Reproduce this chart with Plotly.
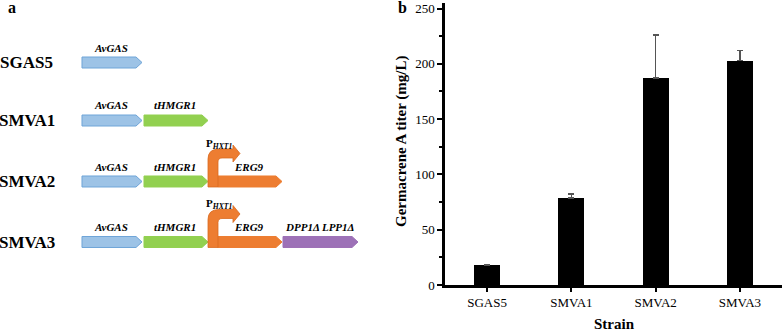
import plotly.graph_objects as go

# ---------------- data ----------------
strains = ["SGAS5", "SMVA1", "SMVA2", "SMVA3"]
titer = [18, 78.5, 187, 203]
titer_err = [0.5, 4, 39, 9]
titer_err_minus = [0, 0, 0, 0]
y_ticks = [0, 50, 100, 150, 200, 250]

row_labels = ["SGAS5", "SMVA1", "SMVA2", "SMVA3"]
gene_names = ["AvGAS", "tHMGR1", "ERG9", "DPP1Δ LPP1Δ"]
promoter_label = "P<sub><i>HXT1</i></sub>"

W, H = 784, 332
FONT = "Liberation Serif"

def px(x):
    return x / W

def py(y):
    return 1 - y / H

def pt(x, y):
    return f"{px(x):.5f},{py(y):.5f}"

def poly(points):
    s = "M " + pt(*points[0])
    for p in points[1:]:
        if p[0] == "Q":
            s += " Q " + pt(*p[1]) + " " + pt(*p[2])
        else:
            s += " L " + pt(*p)
    return s + " Z"

fig = go.Figure()

fig.add_trace(go.Bar(
    x=strains, y=titer,
    error_y=dict(type="data", symmetric=False, array=titer_err, arrayminus=titer_err_minus,
                 visible=True, color="#555555", thickness=1.5, width=3),
    marker=dict(color="black", line=dict(width=0)),
    width=0.31,
    showlegend=False,
))

shapes = []
annotations = []

# ---------------- schematic (panel a) ----------------
row_y = [62.5, 120.5, 181.5, 242]
gene_h = 11
tip = 6
colors = {
    "AvGAS": ("#9dc3e6", "#6fa5d8"),
    "tHMGR1": ("#92d050", "#92d050"),
    "ERG9": ("#ed7d31", "#ed7d31"),
    "DPP1Δ LPP1Δ": ("#9d71b7", "#9d71b7"),
}
gene_span = {
    "AvGAS": (82, 142),
    "tHMGR1": (144, 208),
    "ERG9": (218, 282),
    "DPP1Δ LPP1Δ": (283, 358),
}
row_genes = [
    ["AvGAS"],
    ["AvGAS", "tHMGR1"],
    ["AvGAS", "tHMGR1", "ERG9"],
    ["AvGAS", "tHMGR1", "ERG9", "DPP1Δ LPP1Δ"],
]

def gene_arrow(x0, x1, yc, fill, line):
    t, b = yc - gene_h / 2, yc + gene_h / 2
    p = poly([(x0, t), (x1 - tip, t), (x1, yc), (x1 - tip, b), (x0, b)])
    return dict(type="path", path=p, xref="paper", yref="paper",
                fillcolor=fill, line=dict(color=line, width=1), layer="above")

def promoter(yc):
    bot = yc + gene_h / 2
    top = yc - 32.5
    hy = yc - 28
    p = poly([
        (208, bot),
        (208, top + 10),
        ("Q", (208, top), (219, top)),
        (233, top),
        (233, hy - 8.5),
        (240, hy),
        (233, hy + 8.5),
        (233, top + 9),
        (222, top + 9),
        ("Q", (218, top + 9), (218, top + 13)),
        (218, bot),
    ])
    return dict(type="path", path=p, xref="paper", yref="paper",
                fillcolor="#ed7d31", line=dict(color="#d96a20", width=0.8), layer="above")

for label, yc, genes in zip(row_labels, row_y, row_genes):
    annotations.append(dict(x=px(26.5), y=py(yc), xref="paper", yref="paper", text=f"<b>{label}</b>",
                            showarrow=False, xanchor="center", yanchor="middle",
                            font=dict(family=FONT, size=17, color="black")))
    for g in genes:
        x0, x1 = gene_span[g]
        fill, line = colors[g]
        shapes.append(gene_arrow(x0, x1, yc, fill, line))
        annotations.append(dict(x=px((x0 + x1) / 2 - 1), y=py(yc - 15), xref="paper", yref="paper",
                                text=f"<b><i>{g}</i></b>", showarrow=False,
                                xanchor="center", yanchor="middle",
                                font=dict(family=FONT, size=11, color="black")))
    if "ERG9" in genes:
        shapes.append(promoter(yc))
        annotations.append(dict(x=px(220), y=py(yc - 38), xref="paper", yref="paper",
                                text=f"<b>{promoter_label}</b>", showarrow=False,
                                xanchor="center", yanchor="middle",
                                font=dict(family=FONT, size=11, color="black")))

# panel letters
annotations.append(dict(x=px(12), y=py(8), xref="paper", yref="paper", text="<b>a</b>",
                        showarrow=False, xanchor="center", yanchor="middle",
                        font=dict(family=FONT, size=16, color="black")))
annotations.append(dict(x=px(402), y=py(8), xref="paper", yref="paper", text="<b>b</b>",
                        showarrow=False, xanchor="center", yanchor="middle",
                        font=dict(family=FONT, size=16, color="black")))

# axis titles
annotations.append(dict(x=px(401), y=py(142), xref="paper", yref="paper",
                        text="<b>Germacrene A titer (mg/L)</b>", textangle=-90,
                        showarrow=False, xanchor="center", yanchor="middle",
                        font=dict(family=FONT, size=15, color="black")))
annotations.append(dict(x=px(614), y=py(324), xref="paper", yref="paper",
                        text="<b>Strain</b>", showarrow=False, xanchor="center", yanchor="middle",
                        font=dict(family=FONT, size=15, color="black")))

fig.update_layout(
    width=W, height=H,
    margin=dict(l=0, r=0, t=0, b=0, autoexpand=False),
    paper_bgcolor="white", plot_bgcolor="white",
    font=dict(family=FONT, size=13, color="black"),
    shapes=shapes,
    annotations=annotations,
    bargap=0,
    xaxis=dict(
        domain=[px(445), px(782)],
        range=[-0.5, 3.5],
        showline=True, linecolor="black", linewidth=2.5,
        ticks="outside", ticklen=4, tickwidth=2, tickcolor="black",
        showgrid=False, zeroline=False, automargin=False,
        tickfont=dict(family=FONT, size=13, color="black"),
    ),
    yaxis=dict(
        domain=[py(285), py(3)],
        range=[0, 255],
        tickvals=y_ticks,
        showline=True, linecolor="black", linewidth=2.5,
        ticks="outside", ticklen=5, tickwidth=2, tickcolor="black",
        minor=dict(ticks="outside", ticklen=3, tickwidth=2, tickcolor="black", dtick=25, showgrid=False),
        showgrid=False, zeroline=False, automargin=False,
        tickfont=dict(family=FONT, size=13, color="black"),
    ),
)

fig.write_html("out.html",
               config={"displayModeBar": False},
               post_script="document.body.style.margin='0';document.body.style.overflow='hidden';")
